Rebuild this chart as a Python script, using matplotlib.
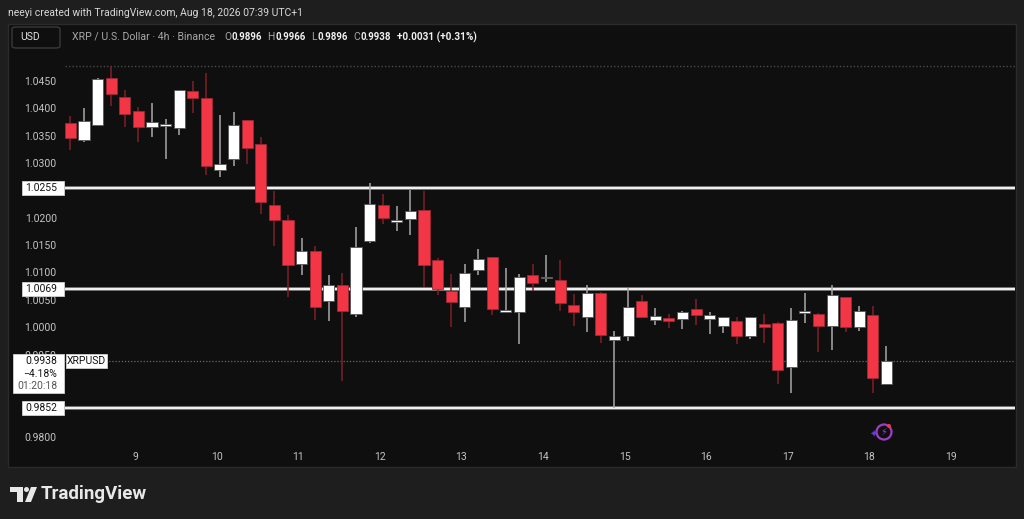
import matplotlib
matplotlib.use('Agg')
import matplotlib.pyplot as plt
from matplotlib.patches import Rectangle, FancyBboxPatch, Circle, Polygon

W, H = 1024, 519

# 4h candles, XRP / USD (local time UTC+1), first candle 8 Aug 05:00
first_day = 8 + 5 / 24
opens = [1.0373, 1.0343, 1.0369, 1.0455, 1.0420, 1.0395, 1.0366, 1.0368, 1.0364, 1.0432,
         1.0418, 1.0287, 1.0307, 1.0378, 1.0334, 1.0224, 1.0195, 1.0116, 1.0139, 1.0048,
         1.0077, 1.0024, 1.0158, 1.0224, 1.0193, 1.0198, 1.0214, 1.0122, 1.0066, 1.0037,
         1.0104, 1.0128, 1.0028, 1.0027, 1.0095, 1.0089, 1.0086, 1.0040, 1.0019, 1.0063,
         0.9976, 0.9983, 1.0047, 1.0013, 1.0017, 1.0015, 1.0033, 1.0015, 1.0003, 1.0012,
         0.9984, 1.0006, 1.0008, 0.9928, 1.0026, 1.0025, 1.0002, 1.0055, 1.0000, 1.0023,
         0.9896]
highs = [1.0386, 1.0400, 1.0456, 1.0478, 1.0433, 1.0403, 1.0410, 1.0380, 1.0434, 1.0450,
         1.0464, 1.0388, 1.0393, 1.0379, 1.0348, 1.0249, 1.0205, 1.0163, 1.0148, 1.0095,
         1.0099, 1.0184, 1.0264, 1.0243, 1.0221, 1.0251, 1.0248, 1.0127, 1.0098, 1.0116,
         1.0143, 1.0129, 1.0108, 1.0097, 1.0115, 1.0132, 1.0122, 1.0061, 1.0078, 1.0064,
         0.9993, 1.0071, 1.0059, 1.0035, 1.0024, 1.0030, 1.0052, 1.0027, 1.0019, 1.0019,
         1.0019, 1.0024, 1.0009, 1.0035, 1.0063, 1.0026, 1.0078, 1.0056, 1.0039, 1.0039,
         0.9966]
lows = [1.0323, 1.0338, 1.0368, 1.0405, 1.0366, 1.0339, 1.0348, 1.0308, 1.0352, 1.0391,
        1.0279, 1.0275, 1.0295, 1.0298, 1.0206, 1.0149, 1.0055, 1.0096, 1.0013, 1.0012,
        0.9902, 1.0018, 1.0154, 1.0188, 1.0175, 1.0168, 1.0074, 1.0058, 1.0000, 1.0009,
        1.0095, 1.0023, 1.0027, 0.9970, 1.0066, 1.0083, 1.0030, 1.0002, 0.9991, 0.9972,
        0.9852, 0.9975, 1.0018, 1.0004, 0.9998, 0.9997, 1.0004, 0.9988, 0.9989, 0.9969,
        0.9979, 0.9972, 0.9897, 0.9879, 1.0007, 0.9955, 0.9958, 0.9992, 0.9993, 0.9879,
        0.9896]
closes = [1.0345, 1.0377, 1.0454, 1.0427, 1.0390, 1.0366, 1.0375, 1.0371, 1.0433, 1.0419,
          1.0295, 1.0298, 1.0369, 1.0328, 1.0228, 1.0195, 1.0114, 1.0139, 1.0037, 1.0077,
          1.0030, 1.0147, 1.0225, 1.0200, 1.0194, 1.0212, 1.0113, 1.0069, 1.0046, 1.0099,
          1.0125, 1.0033, 1.0028, 1.0091, 1.0081, 1.0090, 1.0044, 1.0027, 1.0062, 0.9985,
          0.9984, 1.0037, 1.0019, 1.0020, 1.0011, 1.0028, 1.0022, 1.0022, 1.0018, 0.9983,
          1.0018, 1.0001, 0.9922, 1.0014, 1.0027, 1.0003, 1.0059, 1.0000, 1.0030, 0.9907,
          0.9938]

levels = [1.0255, 1.0069, 0.9852]
day_ticks = [9, 10, 11, 12, 13, 14, 15, 16, 17, 18, 19]
# ticks hidden behind the axis labels are left out (1.0250, 0.9900, 0.9850)
price_ticks = [0.9800, 0.9950, 1.0000, 1.0050, 1.0100, 1.0150,
               1.0200, 1.0300, 1.0350, 1.0400, 1.0450]
last_price = 0.9938
last_change = '\u22124.18%'
countdown = '01:20:18'

UP = '#ffffff'
DOWN = '#f23645'
UP_WICK = '#a8a8a8'
DOWN_WICK = '#7e1f29'
TXT = '#c4c4c4'
FONT = 'Roboto'

plt.rcParams['font.family'] = [FONT, 'DejaVu Sans']

fig = plt.figure(figsize=(W / 100, H / 100), dpi=100)
fig.patch.set_facecolor('#1e1e1e')

# dark chart panel
fig.add_artist(Rectangle((8 / W, 1 - 467 / H), 1008 / W, 443 / H, transform=fig.transFigure,
                         facecolor='#0f0f0f', edgecolor='#2b2b2b', lw=1, zorder=0))

ax_l, ax_r, ax_t, ax_b = 65, 1015, 56, 445
ax = fig.add_axes([ax_l / W, 1 - ax_b / H, (ax_r - ax_l) / W, (ax_b - ax_t) / H])
ax.set_facecolor('none')
for s in ax.spines.values():
    s.set_visible(False)

ax.set_xlim(8.1422, 19.784)
ax.set_ylim(0.97847, 1.04956)

times = [first_day + i / 6 for i in range(len(opens))]
width = 0.135
for t, o, h, l, c in zip(times, opens, highs, lows, closes):
    up = c >= o
    wick = UP_WICK if up else DOWN_WICK
    ax.vlines(t, l, h, color=wick, lw=1.1, zorder=3)
    body = max(abs(c - o), 0.00028)
    ax.bar(t, body, width=width, bottom=min(o, c), color=UP if up else DOWN,
           edgecolor='#555555' if up else '#9c2a35', lw=0.6, zorder=4)

# horizontal levels
for lv in levels:
    ax.axhline(lv, color='#8a8a8a', lw=2.6, zorder=2)
    ax.axhline(lv, color='#f2f2f2', lw=1.4, zorder=2)
ax.axhline(max(highs), color='#4a4a4a', lw=1, ls=(0, (1, 1.5)), zorder=1)
ax.axhline(last_price, color='#6a6a6a', lw=0.9, ls=(0, (1, 1.5)), zorder=1)

ax.set_xticks(day_ticks)
ax.set_xticklabels([str(d) for d in day_ticks])
ax.set_yticks(price_ticks)
ax.set_yticklabels([f'{p:.4f}' for p in price_ticks])
ax.tick_params(axis='both', length=0, colors=TXT, labelsize=7.5)
ax.tick_params(axis='y', pad=6)
ax.tick_params(axis='x', pad=5)


def ypix(p):
    # display y (pixels from bottom) for a price
    return ax.transData.transform((ax.get_xlim()[0], p))[1]


# level labels on the price axis
for lv in levels:
    yc = ypix(lv)
    fig.add_artist(Rectangle((22, yc - 7), 42, 14, transform=None, facecolor='white',
                             edgecolor='#d0d0d0', lw=0.6, zorder=10))
    fig.text(57 / W, yc / H, f'{lv:.4f}', ha='right', va='center', color='#131313',
             fontsize=7.5, zorder=11)

# last price label
yc = ypix(last_price)
fig.add_artist(Rectangle((13, yc - 32), 51, 39, transform=None, facecolor='white',
                         edgecolor='#d0d0d0', lw=0.6, zorder=10))
fig.text(57 / W, yc / H, f'{last_price:.4f}', ha='right', va='center', color='#131313',
         fontsize=7.5, zorder=11)
fig.text(57 / W, (yc - 12.5) / H, last_change, ha='right', va='center', color='#131313',
         fontsize=7.5, zorder=11)
fig.text(57 / W, (yc - 25) / H, countdown, ha='right', va='center', color='#555555',
         fontsize=7.5, zorder=11)
fig.add_artist(Rectangle((66, yc - 7), 41, 14, transform=None, facecolor='white',
                         edgecolor='#d0d0d0', lw=0.6, zorder=10))
fig.text(86.5 / W, yc / H, 'XRPUSD', ha='center', va='center', color='#131313',
         fontsize=7.5, zorder=11)

# header
fig.text(8 / W, 1 - 13 / H, 'neeyi created with TradingView.com, Aug 18, 2026 07:39 UTC+1',
         ha='left', va='center', color='#d8d8d8', fontsize=7.5)
fig.add_artist(FancyBboxPatch((12 / W, 1 - 48 / H), 48 / W, 21 / H,
                              boxstyle='round,pad=0,rounding_size=0.004',
                              transform=fig.transFigure, facecolor='#0f0f0f',
                              edgecolor='#3a3a3a', lw=1))
fig.text(20 / W, 1 - 37.5 / H, 'USD', ha='left', va='center', color='#e0e0e0', fontsize=7.5)

# legend line: symbol text, then O/H/L/C letters followed by their values
hy = 1 - 37 / H
fig.text(72 / W, hy, 'XRP / U.S. Dollar \u00b7 4h \u00b7 Binance', ha='left', va='center',
         color='#a8a8a8', fontsize=7.6)
fig.canvas.draw()
renderer = fig.canvas.get_renderer()
ohlc = [(224, 'O', opens[-1]), (267.5, 'H', highs[-1]), (311, 'L', lows[-1]),
        (353, 'C', closes[-1])]
for x, letter, val in ohlc:
    t = fig.text(x / W, hy, letter, ha='left', va='center', color='#a8a8a8', fontsize=7.4)
    x1 = t.get_window_extent(renderer).x1 + 0.5
    fig.text(x1 / W, hy, f'{val:.4f}', ha='left', va='center', color='#f0f0f0',
             fontsize=6.9, fontweight='bold')
fig.text(397 / W, hy, '+0.0031 (+0.31%)', ha='left', va='center', color='#f0f0f0',
         fontsize=7.2, fontweight='bold')

# small assistant icon
fig.add_artist(Circle((884, H - 432), 7.5, transform=None, facecolor='none',
                      edgecolor='#9b3fc7', lw=1.6, zorder=6))
fig.text(884 / W, 1 - 432 / H, '\u26a1', ha='center', va='center', color='#9b3fc7',
         fontsize=7, family='DejaVu Sans', zorder=7)
fig.add_artist(Circle((889, H - 426), 2, transform=None, facecolor='#f23645',
                      edgecolor='none', zorder=7))
fig.text(874 / W, 1 - 435 / H, '\u2726', ha='center', va='center', color='#5b3fd6',
         fontsize=7, family='DejaVu Sans', zorder=7)

# TradingView logo
lg = '#e8e8e8'
fig.add_artist(Polygon([(10, H - 487), (23, H - 487), (23, H - 502), (17, H - 502),
                        (17, H - 492), (10, H - 492)], closed=True, transform=None,
                       facecolor=lg, edgecolor='none'))
fig.add_artist(Circle((26.5, H - 489.5), 2.5, transform=None, facecolor=lg, edgecolor='none'))
fig.add_artist(Polygon([(31, H - 487), (37, H - 487), (31, H - 502), (25, H - 502)],
                       closed=True, transform=None, facecolor=lg, edgecolor='none'))
fig.text(41 / W, 1 - 494 / H, 'TradingView', ha='left', va='center', color=lg,
         fontsize=13.5, fontweight='bold')

fig.savefig('out.png', dpi=100, facecolor=fig.get_facecolor())
